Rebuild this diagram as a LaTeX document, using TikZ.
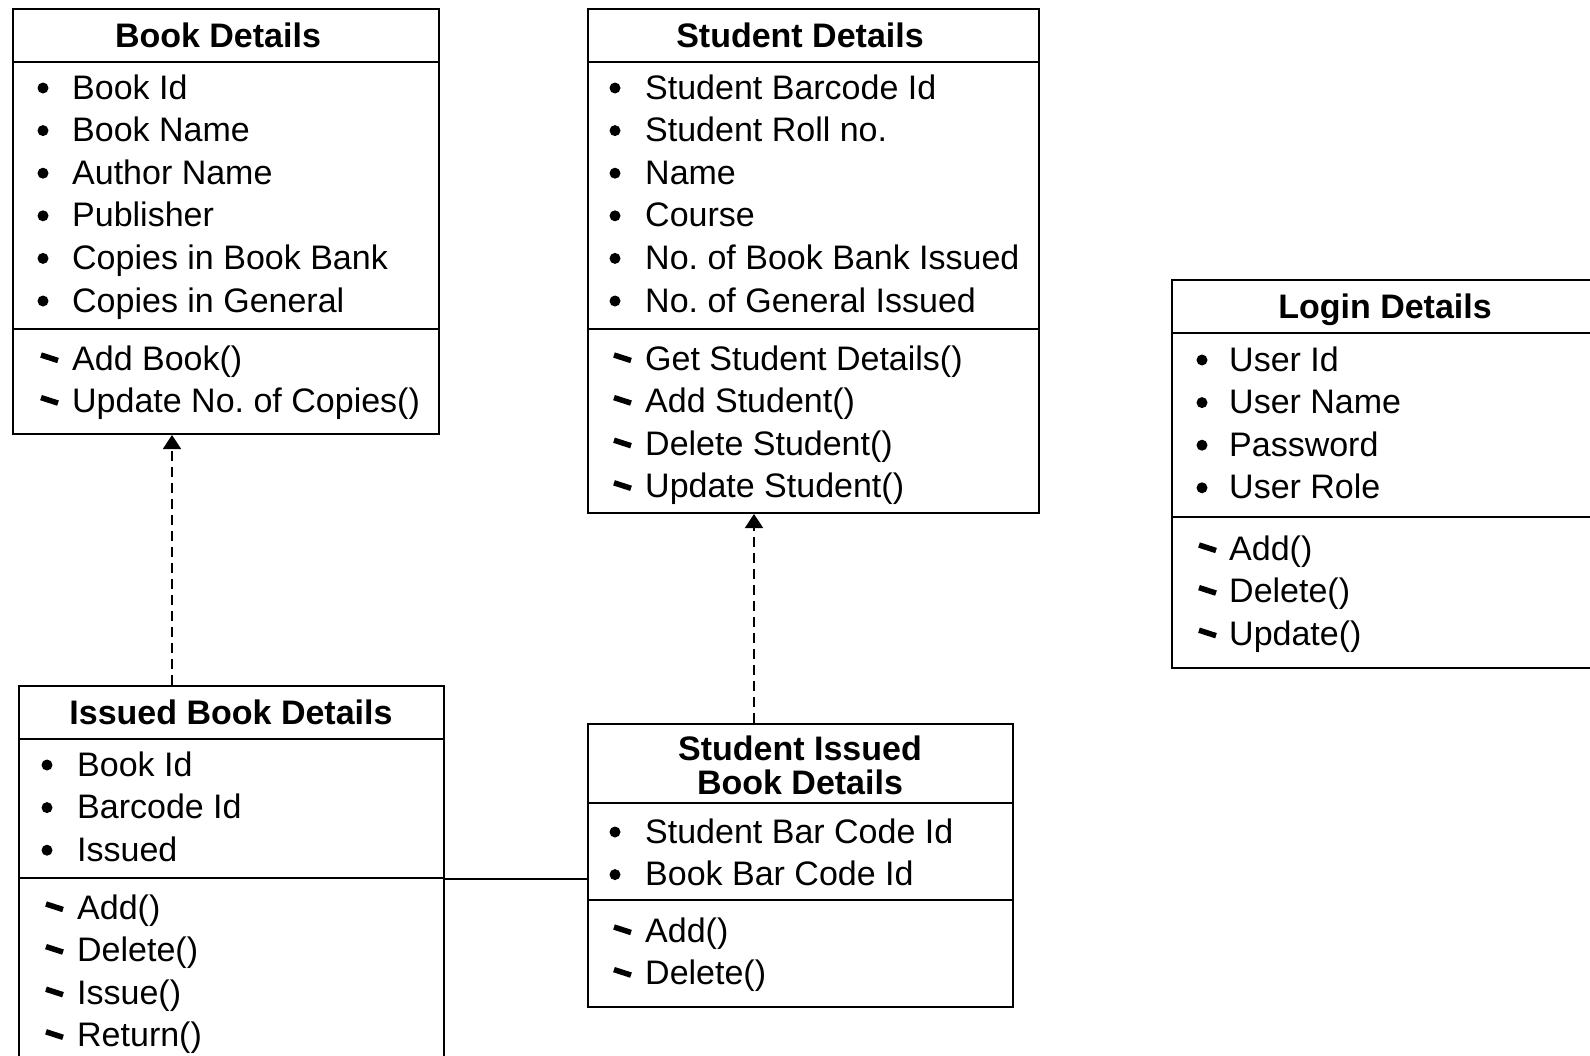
\documentclass[tikz,border=0pt]{standalone}
\usepackage{fontspec}
\setmainfont{Liberation Sans}
\usetikzlibrary{arrows.meta}
\frenchspacing
\begin{document}
\begin{tikzpicture}[x=1pt,y=-1pt,
  box/.style={draw, line width=2pt, anchor=north west, inner sep=0pt},
  sep/.style={line width=2pt},
  txt/.style={anchor=west, inner sep=0pt, text height=24pt, text depth=0pt, font=\fontsize{34}{40}\selectfont},
  ttl/.style={anchor=center, inner sep=0pt, text height=24pt, text depth=0pt, font=\fontsize{34}{40}\selectfont\bfseries},
  dep/.style={line width=1.8pt, dash pattern=on 10pt off 6pt, -{Triangle[length=14pt,width=18pt]}},
  conn/.style={line width=2pt},
  mb/.pic={\draw[line width=5.5pt] (-9,-3) -- (8,2.5);}]
\useasboundingbox (0,0) rectangle (1590,1055);
\fill[white] (0,0) rectangle (1590,1055);
\clip (0,0) rectangle (1590,1055);

% ---------- boxes ----------
\node[box, minimum width=426pt, minimum height=425pt] (book) at (12,8) {};
\node[box, minimum width=451pt, minimum height=504pt] (student) at (587,8) {};
\node[box, minimum width=428pt, minimum height=388pt] (login) at (1171,279) {};
\node[box, minimum width=425pt, minimum height=385pt] (issued) at (18,685) {};
\node[box, minimum width=425pt, minimum height=283pt] (sib) at (587,723) {};

% ---------- dividers ----------
\draw[sep] (book.west |- 0,62) -- (book.east |- 0,62);
\draw[sep] (book.west |- 0,329) -- (book.east |- 0,329);
\draw[sep] (student.west |- 0,62) -- (student.east |- 0,62);
\draw[sep] (student.west |- 0,329) -- (student.east |- 0,329);
\draw[sep] (login.west |- 0,333) -- (login.east |- 0,333);
\draw[sep] (login.west |- 0,517) -- (login.east |- 0,517);
\draw[sep] (issued.west |- 0,739) -- (issued.east |- 0,739);
\draw[sep] (issued.west |- 0,878) -- (issued.east |- 0,878);
\draw[sep] (sib.west |- 0,803) -- (sib.east |- 0,803);
\draw[sep] (sib.west |- 0,900) -- (sib.east |- 0,900);

% ---------- titles ----------
\node[ttl] (book-t) at (218,35) {Book Details};
\node[ttl] (student-t) at (800,35) {Student Details};
\node[ttl] (login-t) at (1385,306) {Login Details};
\node[ttl] (issued-t) at (231,712) {Issued Book Details};
\node[ttl] (sib-t1) at (800,748) {Student Issued};
\node[ttl] (sib-t2) at (800,782) {Book Details};

% ---------- Book Details ----------
\foreach \t [count=\i] in {Book Id,Book Name,Author Name,Publisher,Copies in Book Bank,Copies in General}{
  \node[txt] (book-a\i) at (72,{87+42.6*(\i-1)}) {\t};
  \fill (43,{88+42.6*(\i-1)}) circle (5.5pt);
}
\foreach \t [count=\i] in {Add Book(),Update No. of Copies()}{
  \node[txt] (book-m\i) at (72,{358+42.6*(\i-1)}) {\t};
  \pic at (50,{358+42.6*(\i-1)}) {mb};
}

% ---------- Student Details ----------
\foreach \t [count=\i] in {Student Barcode Id,Student Roll no.,Name,Course,No. of Book Bank Issued,No. of General Issued}{
  \node[txt] (student-a\i) at (645,{87+42.6*(\i-1)}) {\t};
  \fill (615,{88+42.6*(\i-1)}) circle (5.5pt);
}
\foreach \t [count=\i] in {Get Student Details(),Add Student(),Delete Student(),Update Student()}{
  \node[txt] (student-m\i) at (645,{358+42.6*(\i-1)}) {\t};
  \pic at (623,{358+42.6*(\i-1)}) {mb};
}

% ---------- Login Details ----------
\foreach \t [count=\i] in {User Id,User Name,Password,User Role}{
  \node[txt] (login-a\i) at (1229,{359+42.6*(\i-1)}) {\t};
  \fill (1202,{360+42.6*(\i-1)}) circle (5.5pt);
}
\foreach \t [count=\i] in {Add(),Delete(),Update()}{
  \node[txt] (login-m\i) at (1229,{548+42.6*(\i-1)}) {\t};
  \pic at (1208,{548+42.6*(\i-1)}) {mb};
}

% ---------- Issued Book Details ----------
\foreach \t [count=\i] in {Book Id,Barcode Id,Issued}{
  \node[txt] (issued-a\i) at (77,{764+42.6*(\i-1)}) {\t};
  \fill (47,{765+42.6*(\i-1)}) circle (5.5pt);
}
\foreach \t [count=\i] in {Add(),Delete(),Issue(),Return()}{
  \node[txt] (issued-m\i) at (77,{907+42.6*(\i-1)}) {\t};
  \pic at (55,{907+42.6*(\i-1)}) {mb};
}

% ---------- Student Issued Book Details ----------
\foreach \t [count=\i] in {Student Bar Code Id,Book Bar Code Id}{
  \node[txt] (sib-a\i) at (645,{831+42.6*(\i-1)}) {\t};
  \fill (615,{832+42.6*(\i-1)}) circle (5.5pt);
}
\foreach \t [count=\i] in {Add(),Delete()}{
  \node[txt] (sib-m\i) at (645,{930+42.6*(\i-1)}) {\t};
  \pic at (623,{930+42.6*(\i-1)}) {mb};
}

% ---------- connectors ----------
\draw[dep] ([xshift=154pt]issued.north west) -- ([xshift=154pt]issued.north west |- book.south);
\draw[dep] ([xshift=167pt]sib.north west) -- ([xshift=167pt]sib.north west |- student.south);
\draw[conn] (issued.east) -- (issued.east -| sib.west);
\end{tikzpicture}
\end{document}
